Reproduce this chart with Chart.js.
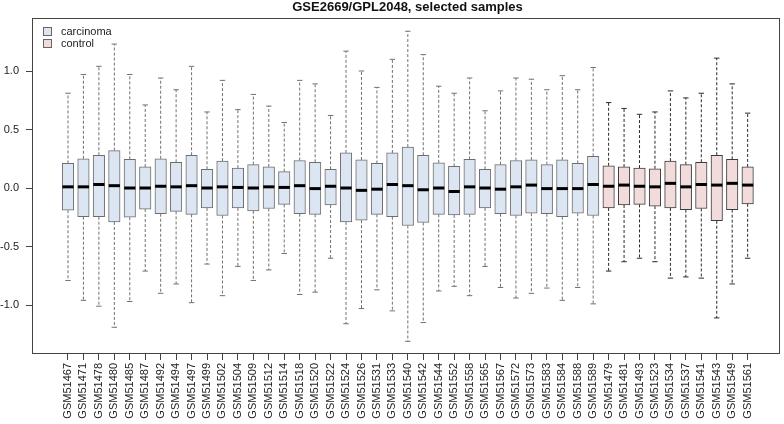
<!DOCTYPE html>
<html>
<head>
<meta charset="utf-8">
<script src="https://cdn.jsdelivr.net/npm/chart.js@4.4.1/dist/chart.umd.min.js"></script>
<style>
  html, body { margin: 0; padding: 0; background: #fff; overflow: hidden; }
  canvas { display: block; }
</style>
</head>
<body>
<canvas id="c" width="784" height="424"></canvas>
<script>
// boxplot of normalised expression per sample, GEO2R style
const samples = [
  'GSM51467','GSM51471','GSM51478','GSM51480','GSM51485','GSM51487','GSM51492','GSM51494',
  'GSM51497','GSM51499','GSM51502','GSM51504','GSM51509','GSM51512','GSM51514','GSM51518',
  'GSM51520','GSM51522','GSM51524','GSM51526','GSM51531','GSM51533','GSM51540','GSM51542',
  'GSM51544','GSM51552','GSM51558','GSM51565','GSM51567','GSM51572','GSM51573','GSM51583',
  'GSM51584','GSM51588','GSM51589',
  'GSM51479','GSM51481','GSM51493','GSM51523','GSM51534','GSM51537','GSM51541','GSM51543',
  'GSM51549','GSM51561'
];
const groups = samples.map((s, i) => (i < 35 ? 'carcinoma' : 'control'));

const upperWhisker = [0.81,0.97,1.04,1.23,0.97,0.71,0.94,0.84,1.04,0.65,0.92,0.67,0.80,0.70,0.56,0.92,
  0.89,0.62,1.17,1.00,0.86,1.10,1.34,1.14,0.87,0.81,0.94,0.66,0.83,0.94,0.93,0.84,0.96,0.84,1.03,
  0.73,0.68,0.63,0.65,0.83,0.77,0.81,1.11,0.89,0.64];
const q3 = [0.21,0.25,0.28,0.32,0.245,0.18,0.25,0.22,0.28,0.16,0.23,0.17,0.20,0.18,0.14,0.235,
  0.22,0.16,0.30,0.24,0.21,0.30,0.35,0.28,0.215,0.185,0.245,0.16,0.20,0.235,0.24,0.20,0.24,0.21,0.27,
  0.19,0.18,0.17,0.165,0.23,0.20,0.22,0.28,0.245,0.18];
const median = [0.01,0.01,0.03,0.02,0.0,0.0,0.015,0.01,0.02,0.0,0.01,0.005,0.0,0.01,0.005,0.02,
  -0.005,0.015,0.0,-0.02,-0.01,0.03,0.02,-0.015,0.0,-0.03,0.01,0.0,-0.01,0.01,0.025,-0.005,-0.005,-0.005,0.03,
  0.015,0.025,0.015,0.01,0.04,0.01,0.03,0.025,0.04,0.025];
const q1 = [-0.19,-0.245,-0.245,-0.29,-0.25,-0.18,-0.22,-0.20,-0.225,-0.17,-0.235,-0.17,-0.195,-0.175,-0.14,-0.22,
  -0.225,-0.145,-0.29,-0.275,-0.225,-0.245,-0.32,-0.295,-0.225,-0.23,-0.225,-0.17,-0.22,-0.235,-0.215,-0.22,-0.245,-0.215,-0.235,
  -0.17,-0.145,-0.14,-0.155,-0.17,-0.185,-0.175,-0.28,-0.185,-0.135];
const lowerWhisker = [-0.79,-0.96,-1.01,-1.19,-0.97,-0.71,-0.90,-0.82,-0.98,-0.65,-0.92,-0.67,-0.79,-0.70,-0.56,-0.91,
  -0.89,-0.60,-1.16,-1.03,-0.87,-1.05,-1.31,-1.15,-0.88,-0.84,-0.92,-0.67,-0.85,-0.94,-0.90,-0.855,-0.96,-0.85,-0.99,
  -0.71,-0.63,-0.60,-0.63,-0.77,-0.76,-0.77,-1.11,-0.82,-0.60];
const yTicks = [-1.0, -0.5, 0.0, 0.5, 1.0];

const FONT = '"Liberation Sans", Arial, Helvetica, sans-serif';
const fill = { carcinoma: '#dce6f2', control: '#f2dcdb' };
const edge = { carcinoma: '#6e6e6e', control: '#3c3c3c' };
const dash = { carcinoma: '#707070', control: '#2a2a2a' };

const boxData = samples.map((s, i) => ({ x: i + 1, y: [q1[i], q3[i]] }));
const whiskerData = [];
samples.forEach((s, i) => {
  whiskerData.push({ x: i + 1, y: q3[i] }, { x: i + 1, y: upperWhisker[i] }, { x: i + 1, y: null });
  whiskerData.push({ x: i + 1, y: q1[i] }, { x: i + 1, y: lowerWhisker[i] }, { x: i + 1, y: null });
});
const stapleData = [];
const stapleColors = [];
samples.forEach((s, i) => {
  stapleData.push({ x: i + 1, y: upperWhisker[i] }, { x: i + 1, y: lowerWhisker[i] });
  stapleColors.push(dash[groups[i]], dash[groups[i]]);
});
const medianData = samples.map((s, i) => ({ x: i + 1, y: median[i] }));

const frame = {
  id: 'frame',
  afterDraw(chart) {
    const { ctx, chartArea: a } = chart;
    ctx.save();
    ctx.strokeStyle = '#444';
    ctx.lineWidth = 1;
    ctx.strokeRect(Math.round(a.left) + 0.5, Math.round(a.top) + 0.5,
      Math.round(a.right - a.left), Math.round(a.bottom - a.top));
    // title
    ctx.fillStyle = '#111';
    ctx.font = 'bold 13px ' + FONT;
    ctx.textAlign = 'center';
    ctx.textBaseline = 'middle';
    ctx.fillText('GSE2669/GPL2048, selected samples', (a.left + a.right) / 2 + 2, 7);
    // legend
    ctx.font = '11px ' + FONT;
    ctx.textAlign = 'left';
    ['carcinoma', 'control'].forEach((g, k) => {
      const y = 32 + k * 12;
      ctx.fillStyle = fill[g];
      ctx.fillRect(43.5, y - 4.5, 8, 8);
      ctx.strokeStyle = '#666';
      ctx.strokeRect(43.5, y - 4.5, 8, 8);
      ctx.fillStyle = '#222';
      ctx.fillText(g, 61, y);
    });
    ctx.restore();
  }
};

new Chart(document.getElementById('c'), {
  type: 'bar',
  data: {
    datasets: [
      {
        type: 'line',
        data: whiskerData,
        order: 3,
        borderWidth: 1,
        borderDash: [3, 2],
        borderColor: dash.carcinoma,
        segment: { borderColor: (c) => dash[groups[Math.round(c.p0.parsed.x) - 1]] },
        pointRadius: 0,
        spanGaps: false,
        fill: false,
      },
      {
        type: 'bar',
        data: boxData,
        order: 2,
        barThickness: 11.5,
        backgroundColor: groups.map((g) => fill[g]),
        borderColor: groups.map((g) => edge[g]),
        borderWidth: 1,
        borderSkipped: false,
      },
      {
        type: 'scatter',
        data: stapleData,
        order: 1,
        pointStyle: 'line',
        pointRadius: 2.7,
        pointBorderWidth: 1,
        pointBorderColor: stapleColors,
      },
      {
        type: 'scatter',
        data: medianData,
        order: 0,
        pointStyle: 'line',
        pointRadius: 5.6,
        pointBorderWidth: 3,
        pointBorderColor: '#000',
      },
    ],
  },
  options: {
    responsive: false,
    devicePixelRatio: 1,
    animation: false,
    layout: { autoPadding: false, padding: { top: 18, right: 5, left: 0, bottom: 0 } },
    plugins: { legend: { display: false }, title: { display: false }, tooltip: { enabled: false } },
    scales: {
      x: {
        type: 'linear',
        offset: false,
        min: -1.33,
        max: 47.03,
        afterBuildTicks: (s) => { s.ticks = samples.map((n, i) => ({ value: i + 1 })); },
        afterFit: (s) => { s.height = 71; s.paddingLeft = 0; s.paddingRight = 0; },
        border: { display: false },
        grid: { offset: false, drawOnChartArea: false, drawTicks: true, tickLength: 7, color: '#444' },
        ticks: {
          autoSkip: false,
          minRotation: 90,
          maxRotation: 90,
          padding: 3,
          color: '#222',
          font: { family: FONT, size: 11 },
          callback: (v) => samples[v - 1],
        },
      },
      y: {
        type: 'linear',
        min: -1.41,
        max: 1.453,
        afterBuildTicks: (s) => { s.ticks = yTicks.map((v) => ({ value: v })); },
        afterFit: (s) => { s.width = 32; s.paddingTop = 0; s.paddingBottom = 0; },
        border: { display: false },
        grid: { drawOnChartArea: false, drawTicks: true, tickLength: 6, color: '#444' },
        ticks: {
          padding: 7,
          color: '#222',
          font: { family: FONT, size: 11 },
          callback: (v) => v.toFixed(1),
        },
      },
    },
  },
  plugins: [frame],
});
</script>
</body>
</html>
